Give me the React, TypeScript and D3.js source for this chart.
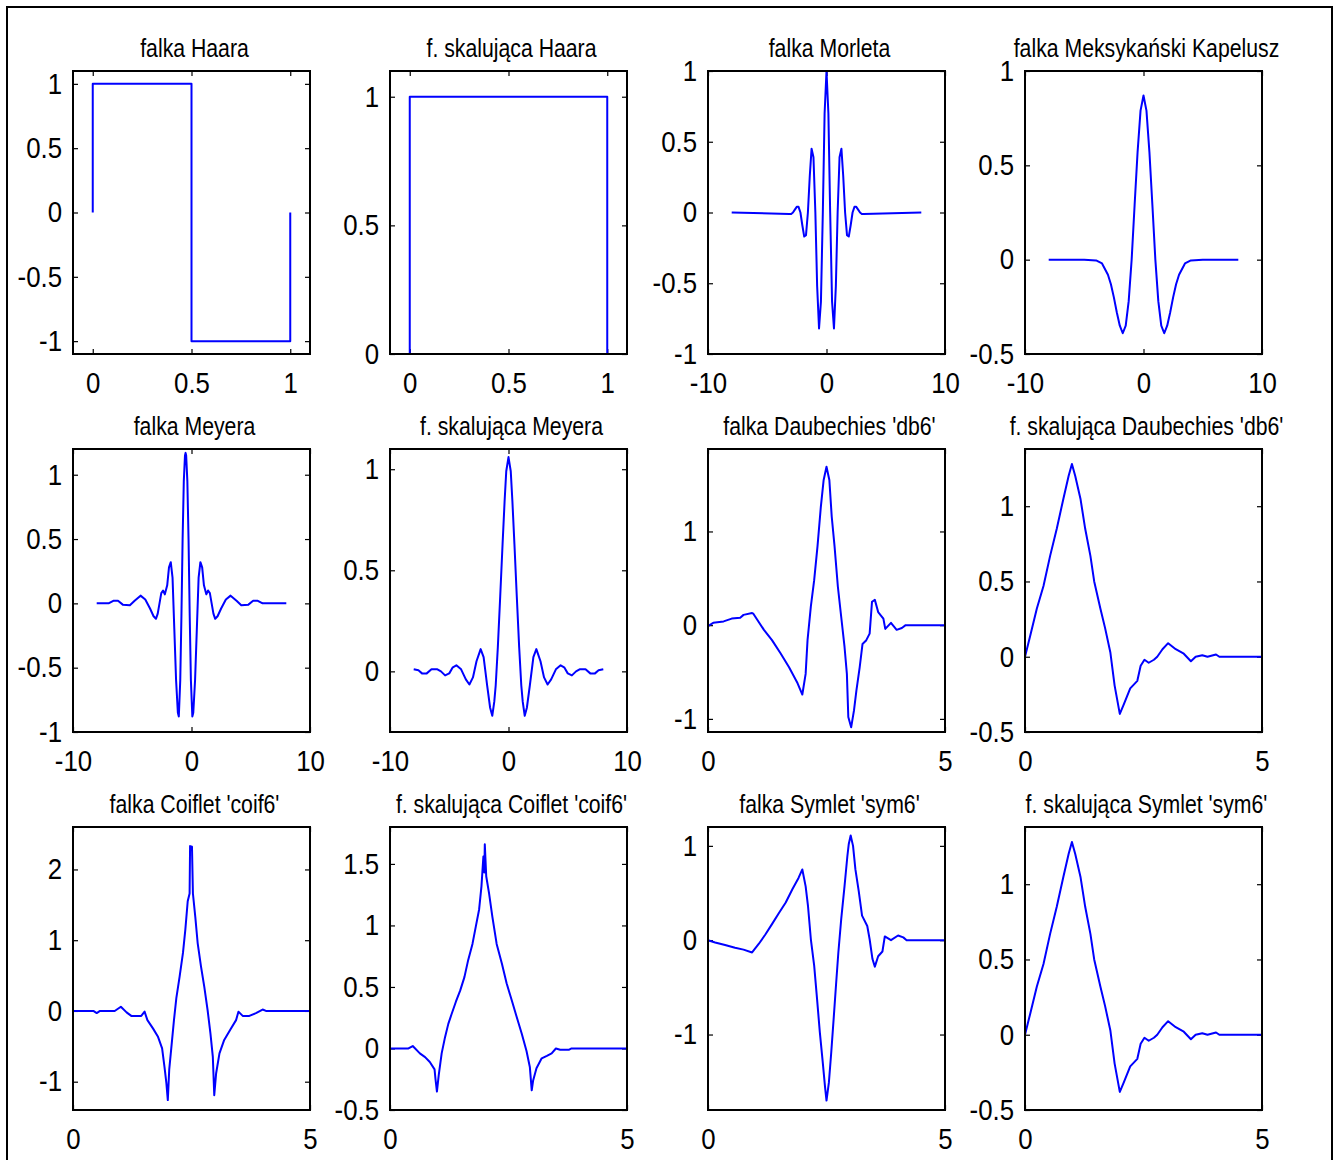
import React, { useEffect, useRef } from 'react';
import * as d3 from 'd3';

// wartości: [x, y]
const haarWavelet: [number, number][] = [[0, 0], [0, 1], [0.5, 1], [0.5, -1], [1, -1], [1, 0]];
const haarScaling: [number, number][] = [[0, 0], [0, 1], [1, 1], [1, 0]];

const morlet: [number, number][] = [
  [-8, 0], [-3.14, -0.01], [-2.98, -0.01], [-2.83, 0], [-2.67, 0.02], [-2.51, 0.04], [-2.36, 0.04],
  [-2.2, 0], [-2.04, -0.09], [-1.88, -0.17], [-1.73, -0.16], [-1.57, 0], [-1.41, 0.26], [-1.26, 0.45],
  [-1.1, 0.39], [-0.94, 0], [-0.79, -0.52], [-0.63, -0.82], [-0.47, -0.63], [-0.31, 0], [-0.16, 0.7],
  [0, 1], [0.16, 0.7], [0.31, 0], [0.47, -0.63], [0.63, -0.82], [0.79, -0.52], [0.94, 0], [1.1, 0.39],
  [1.26, 0.45], [1.41, 0.26], [1.57, 0], [1.73, -0.16], [1.88, -0.17], [2.04, -0.09], [2.2, 0],
  [2.36, 0.04], [2.51, 0.04], [2.67, 0.02], [2.83, 0], [2.98, -0.01], [3.14, -0.01], [8, 0],
];

const mexicanHat: [number, number][] = [
  [-8, 0], [-5, 0], [-4, -0.004], [-3.5, -0.02], [-3, -0.08], [-2.75, -0.13], [-2.5, -0.2],
  [-2.25, -0.28], [-2, -0.35], [-1.75, -0.39], [-1.5, -0.35], [-1.25, -0.22], [-1, 0], [-0.75, 0.29],
  [-0.5, 0.57], [-0.25, 0.79], [0, 0.87], [0.25, 0.79], [0.5, 0.57], [0.75, 0.29], [1, 0],
  [1.25, -0.22], [1.5, -0.35], [1.75, -0.39], [2, -0.35], [2.25, -0.28], [2.5, -0.2], [2.75, -0.13],
  [3, -0.08], [3.5, -0.02], [4, -0.004], [5, 0], [8, 0],
];

const meyerWavelet: [number, number][] = [
  [-8, 0], [-7, 0], [-6.6, 0.02], [-6.2, 0.02], [-5.8, -0.01], [-5.2, -0.015], [-4.8, 0.02],
  [-4.3, 0.06], [-3.9, 0.03], [-3.5, -0.04], [-3.2, -0.1], [-3, -0.12], [-2.85, -0.08], [-2.7, 0],
  [-2.55, 0.08], [-2.4, 0.1], [-2.25, 0.07], [-2.05, 0.14], [-1.9, 0.28], [-1.75, 0.32], [-1.6, 0.2],
  [-1.45, -0.2], [-1.3, -0.6], [-1.15, -0.85], [-1.07, -0.88], [-0.95, -0.6], [-0.85, -0.1],
  [-0.75, 0.5], [-0.65, 0.95], [-0.55, 1.15], [-0.5, 1.17], [-0.45, 1.15], [-0.35, 0.95],
  [-0.25, 0.5], [-0.15, -0.1], [-0.05, -0.6], [0.07, -0.88], [0.15, -0.85], [0.3, -0.6],
  [0.45, -0.2], [0.6, 0.2], [0.75, 0.32], [0.9, 0.28], [1.05, 0.14], [1.25, 0.07], [1.4, 0.1],
  [1.55, 0.08], [1.7, 0], [1.85, -0.08], [2, -0.12], [2.2, -0.1], [2.5, -0.04], [2.9, 0.03],
  [3.3, 0.06], [3.8, 0.02], [4.2, -0.015], [4.8, -0.01], [5.2, 0.02], [5.6, 0.02], [6, 0], [7, 0], [8, 0],
];

const meyerScaling: [number, number][] = [
  [-8, 0.01], [-7.6, 0.005], [-7.3, -0.01], [-6.9, -0.01], [-6.5, 0.01], [-6, 0.01], [-5.7, 0],
  [-5.35, -0.02], [-5, -0.01], [-4.7, 0.02], [-4.4, 0.03], [-4, 0.01], [-3.6, -0.04], [-3.3, -0.065],
  [-3, -0.03], [-2.7, 0.05], [-2.35, 0.11], [-2.1, 0.07], [-1.8, -0.07], [-1.55, -0.18], [-1.37, -0.22],
  [-1.2, -0.15], [-1.08, -0.07], [-0.9, 0.12], [-0.7, 0.37], [-0.5, 0.63], [-0.33, 0.84], [-0.19, 0.99],
  [0, 1.06], [0.19, 0.99], [0.33, 0.84], [0.5, 0.63], [0.7, 0.37], [0.9, 0.12], [1.08, -0.07],
  [1.2, -0.15], [1.37, -0.22], [1.55, -0.18], [1.8, -0.07], [2.1, 0.07], [2.35, 0.11], [2.7, 0.05],
  [3, -0.03], [3.3, -0.065], [3.6, -0.04], [4, 0.01], [4.4, 0.03], [4.7, 0.02], [5, -0.01],
  [5.35, -0.02], [5.7, 0], [6, 0.01], [6.5, 0.01], [6.9, -0.01], [7.3, -0.01], [7.6, 0.005], [8, 0.01],
];

const db6Wavelet: [number, number][] = [
  [0, -0.01], [0.11, 0.025], [0.33, 0.04], [0.5, 0.07], [0.68, 0.08], [0.75, 0.11], [0.93, 0.13],
  [0.96, 0.12], [1.18, -0.05], [1.35, -0.16], [1.53, -0.3], [1.71, -0.45], [1.89, -0.62], [1.99, -0.74],
  [2.06, -0.52], [2.1, -0.16], [2.17, 0.2], [2.24, 0.48], [2.31, 0.84], [2.38, 1.26], [2.44, 1.55],
  [2.5, 1.69], [2.56, 1.55], [2.61, 1.16], [2.67, 0.84], [2.74, 0.41], [2.81, 0.09], [2.88, -0.23],
  [2.93, -0.52], [2.96, -0.98], [3.02, -1.09], [3.08, -0.91], [3.13, -0.7], [3.2, -0.45], [3.26, -0.2],
  [3.34, -0.16], [3.41, -0.09], [3.46, 0.25], [3.52, 0.27], [3.59, 0.14], [3.7, 0.07], [3.74, -0.04],
  [3.86, 0.025], [3.98, -0.05], [4.09, -0.03], [4.17, 0], [5, 0],
];

const db6Scaling: [number, number][] = [
  [0, 0], [0.11, 0.14], [0.25, 0.32], [0.39, 0.47], [0.53, 0.67], [0.67, 0.85], [0.81, 1.05],
  [0.92, 1.2], [0.99, 1.28], [1.06, 1.2], [1.17, 1.05], [1.27, 0.85], [1.38, 0.67], [1.46, 0.5],
  [1.59, 0.32], [1.69, 0.19], [1.8, 0.03], [1.89, -0.19], [2, -0.38], [2.08, -0.32], [2.22, -0.21],
  [2.37, -0.16], [2.44, -0.06], [2.52, -0.02], [2.61, -0.04], [2.72, -0.02], [2.79, 0], [2.9, 0.05],
  [3.02, 0.09], [3.18, 0.05], [3.35, 0.02], [3.5, -0.03], [3.6, 0], [3.74, 0.01], [3.85, 0],
  [4.03, 0.015], [4.1, 0], [5, 0],
];

const coif6Wavelet: [number, number][] = [
  [0, 0], [0.43, 0], [0.5, -0.03], [0.57, 0], [0.88, 0], [1.01, 0.06], [1.13, -0.02], [1.23, -0.07],
  [1.44, -0.07], [1.51, -0.01], [1.57, -0.13], [1.69, -0.25], [1.79, -0.36], [1.88, -0.53], [1.93, -0.79],
  [1.97, -1.02], [2, -1.26], [2.03, -0.83], [2.07, -0.55], [2.13, -0.13], [2.18, 0.18], [2.25, 0.49],
  [2.32, 0.82], [2.37, 1.15], [2.42, 1.55], [2.46, 1.66], [2.47, 2.33], [2.51, 2.32], [2.53, 1.66],
  [2.58, 1.33], [2.63, 0.96], [2.7, 0.63], [2.77, 0.34], [2.84, 0.01], [2.9, -0.32], [2.95, -0.65],
  [2.98, -1.19], [3.02, -0.88], [3.09, -0.6], [3.19, -0.41], [3.33, -0.25], [3.44, -0.13], [3.49, -0.01],
  [3.58, -0.07], [3.72, -0.07], [3.86, -0.03], [4, 0.02], [4.07, 0], [5, 0],
];

const coif6Scaling: [number, number][] = [
  [0, 0], [0.39, 0], [0.48, 0.02], [0.63, -0.04], [0.74, -0.07], [0.84, -0.11], [0.94, -0.17],
  [0.96, -0.25], [0.99, -0.35], [1.03, -0.21], [1.09, -0.04], [1.16, 0.09], [1.23, 0.2], [1.3, 0.28],
  [1.39, 0.38], [1.48, 0.47], [1.57, 0.58], [1.65, 0.72], [1.74, 0.85], [1.81, 0.99], [1.88, 1.13],
  [1.93, 1.32], [1.97, 1.56], [1.99, 1.43], [2, 1.66], [2.03, 1.4], [2.09, 1.26], [2.16, 1.07],
  [2.25, 0.85], [2.36, 0.69], [2.46, 0.53], [2.57, 0.39], [2.67, 0.26], [2.78, 0.12], [2.88, -0.02],
  [2.95, -0.15], [2.99, -0.34], [3.02, -0.26], [3.09, -0.16], [3.2, -0.08], [3.31, -0.06], [3.41, -0.04],
  [3.5, 0], [3.59, -0.01], [3.78, -0.01], [3.83, 0], [5, 0],
];

const sym6Wavelet: [number, number][] = [
  [0, 0], [0.15, -0.025], [0.36, -0.05], [0.57, -0.08], [0.75, -0.1], [0.93, -0.13], [1.07, -0.04],
  [1.21, 0.06], [1.35, 0.17], [1.5, 0.29], [1.64, 0.4], [1.78, 0.54], [1.91, 0.66], [1.99, 0.75],
  [2.06, 0.57], [2.11, 0.36], [2.17, 0.01], [2.24, -0.27], [2.3, -0.62], [2.36, -0.98], [2.42, -1.29],
  [2.47, -1.56], [2.5, -1.7], [2.55, -1.51], [2.6, -1.19], [2.65, -0.84], [2.7, -0.48], [2.75, -0.13],
  [2.81, 0.22], [2.88, 0.57], [2.94, 0.89], [2.97, 1.02], [3.01, 1.11], [3.06, 1], [3.11, 0.75],
  [3.18, 0.52], [3.25, 0.26], [3.36, 0.15], [3.41, 0.01], [3.47, -0.2], [3.52, -0.28], [3.59, -0.17],
  [3.68, -0.12], [3.73, 0.04], [3.86, 0], [4.01, 0.05], [4.12, 0.03], [4.19, 0], [5, 0],
];

const sym6Scaling: [number, number][] = [
  [0, 0], [0.11, 0.14], [0.25, 0.32], [0.39, 0.47], [0.53, 0.67], [0.67, 0.85], [0.81, 1.05],
  [0.92, 1.2], [0.99, 1.28], [1.06, 1.2], [1.17, 1.05], [1.27, 0.85], [1.38, 0.67], [1.46, 0.5],
  [1.59, 0.32], [1.69, 0.19], [1.8, 0.03], [1.89, -0.19], [2, -0.38], [2.08, -0.32], [2.22, -0.21],
  [2.37, -0.16], [2.44, -0.06], [2.52, -0.02], [2.61, -0.04], [2.72, -0.02], [2.79, 0], [2.9, 0.05],
  [3.02, 0.09], [3.18, 0.05], [3.35, 0.02], [3.5, -0.03], [3.6, 0], [3.74, 0.01], [3.85, 0],
  [4.03, 0.015], [4.1, 0], [5, 0],
];

const titles = [
  'falka Haara', 'f. skalująca Haara', 'falka Morleta', 'falka Meksykański Kapelusz',
  'falka Meyera', 'f. skalująca Meyera', "falka Daubechies 'db6'", "f. skalująca Daubechies 'db6'",
  "falka Coiflet 'coif6'", "f. skalująca Coiflet 'coif6'", "falka Symlet 'sym6'", "f. skalująca Symlet 'sym6'",
];
const series = [
  haarWavelet, haarScaling, morlet, mexicanHat,
  meyerWavelet, meyerScaling, db6Wavelet, db6Scaling,
  coif6Wavelet, coif6Scaling, sym6Wavelet, sym6Scaling,
];
const xLims = [
  [-0.1, 1.1], [-0.1, 1.1], [-10, 10], [-10, 10],
  [-10, 10], [-10, 10], [0, 5], [0, 5],
  [0, 5], [0, 5], [0, 5], [0, 5],
];
const yLims = [
  [-1.1, 1.1], [0, 1.1], [-1, 1], [-0.5, 1],
  [-1, 1.2], [-0.3, 1.1], [-1.14, 1.88], [-0.5, 1.38],
  [-1.4, 2.6], [-0.5, 1.8], [-1.8, 1.2], [-0.5, 1.38],
];
const xTickVals = [
  [0, 0.5, 1], [0, 0.5, 1], [-10, 0, 10], [-10, 0, 10],
  [-10, 0, 10], [-10, 0, 10], [0, 5], [0, 5],
  [0, 5], [0, 5], [0, 5], [0, 5],
];
const yTickVals = [
  [-1, -0.5, 0, 0.5, 1], [0, 0.5, 1], [-1, -0.5, 0, 0.5, 1], [-0.5, 0, 0.5, 1],
  [-1, -0.5, 0, 0.5, 1], [0, 0.5, 1], [-1, 0, 1], [-0.5, 0, 0.5, 1],
  [-1, 0, 1, 2], [-0.5, 0, 0.5, 1, 1.5], [-1, 0, 1], [-0.5, 0, 0.5, 1],
];

const FONT = '"Liberation Sans", Arial, Helvetica, sans-serif';
const W = 1341, H = 1160;
const colLeft = [73, 390, 708, 1025];
const rowTop = [71, 449, 827];
const plotW = 237, plotH = 283;
const TICK_FS = 29, TICK_SX = 0.89;   // wąskie, wysokie cyfry jak w matlabie
const TITLE_FS = 25, TITLE_SX = 0.85;

export default function App() {
  const ref = useRef<SVGSVGElement>(null);

  useEffect(() => {
    const svg = d3.select(ref.current);
    svg.selectAll('*').remove();

    // ramka całej figury
    svg.append('rect')
      .attr('x', 7).attr('y', 7)
      .attr('width', 1325).attr('height', 1200)
      .attr('fill', 'none').attr('stroke', '#000').attr('stroke-width', 2);

    series.forEach((data, i) => {
      const left = colLeft[i % 4];
      const top = rowTop[Math.floor(i / 4)];
      const x = d3.scaleLinear().domain(xLims[i]).range([0, plotW]);
      const y = d3.scaleLinear().domain(yLims[i]).range([plotH, 0]);
      const g = svg.append('g').attr('transform', `translate(${left},${top})`);

      const fmt = (d: d3.NumberValue) => String(d);

      const styleAxis = (sel: d3.Selection<SVGGElement, unknown, null, undefined>) => {
        sel.select('.domain').remove();
        sel.selectAll('line').attr('stroke', '#000').attr('stroke-width', 1.2);
        sel.selectAll('text').attr('fill', '#000');
        sel.attr('font-family', FONT).attr('font-size', TICK_FS);
      };

      // oś Y z etykietami (ścieśnione w poziomie)
      const yAx = g.append('g')
        .call(d3.axisLeft(y).tickValues(yTickVals[i]).tickSize(-5).tickFormat(fmt))
        .call(styleAxis);
      yAx.selectAll('text')
        .attr('x', -11 / TICK_SX)
        .attr('transform', `scale(${TICK_SX},1)`);

      g.append('g')
        .attr('transform', `translate(${plotW},0)`)
        .call(d3.axisRight(y).tickValues(yTickVals[i]).tickSize(-5).tickFormat(() => ''))
        .call(styleAxis);

      const xAx = g.append('g')
        .attr('transform', `translate(0,${plotH})`)
        .call(d3.axisBottom(x).tickValues(xTickVals[i]).tickSize(-5).tickPadding(18).tickFormat(fmt))
        .call(styleAxis);
      xAx.selectAll('text').attr('transform', `scale(${TICK_SX},1)`);

      g.append('g')
        .call(d3.axisTop(x).tickValues(xTickVals[i]).tickSize(-5).tickFormat(() => ''))
        .call(styleAxis);

      // przebieg
      const line = d3.line<[number, number]>()
        .x((d) => x(d[0]))
        .y((d) => y(d[1]));
      g.append('path')
        .datum(data)
        .attr('d', line)
        .attr('fill', 'none')
        .attr('stroke', '#0000ff')
        .attr('stroke-width', 2)
        .attr('stroke-linejoin', 'round');

      // ramka osi
      g.append('rect')
        .attr('width', plotW).attr('height', plotH)
        .attr('fill', 'none').attr('stroke', '#000').attr('stroke-width', 2);

      // tytuł
      g.append('text')
        .attr('transform', `translate(${plotW / 2 + 3},-14) scale(${TITLE_SX},1)`)
        .attr('text-anchor', 'middle')
        .attr('font-family', FONT).attr('font-size', TITLE_FS)
        .text(titles[i]);
    });
  }, []);

  return (
    <svg ref={ref} width={W} height={H}
      style={{ position: 'absolute', left: 0, top: 0, background: '#fff' }} />
  );
}
